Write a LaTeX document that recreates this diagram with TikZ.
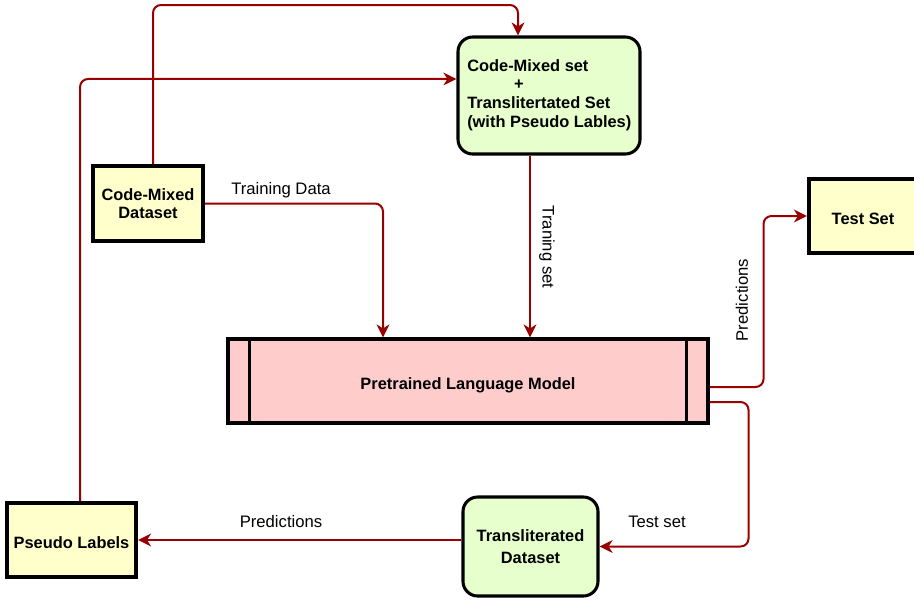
\documentclass[tikz,border=0pt]{standalone}
\usepackage{fontspec}
\setmainfont{Liberation Sans}
\usetikzlibrary{arrows.meta,calc}
\definecolor{lgreen}{HTML}{E6FFCC}
\definecolor{lyellow}{HTML}{FFFFCC}
\definecolor{lpink}{HTML}{FFCCCC}
\definecolor{dred}{HTML}{990000}
\begin{document}
\begin{tikzpicture}[x=0.75pt,y=-0.75pt,
  box/.style={draw=black,line width=2.6pt,font=\fontsize{12.3}{13.5}\selectfont\bfseries,align=center,inner sep=0pt,text depth=0pt},
  oneline/.style={text height=12pt},
  greenbox/.style={box,fill=lgreen,rounded corners=11pt,line width=2.3pt},
  yellowbox/.style={box,fill=lyellow},
  conn/.style={draw=dred,line width=1.5pt,rounded corners=6pt,-{Stealth[length=9.75pt,width=9.5pt,inset=3pt]}},
  lbl/.style={font=\fontsize{12.5}{13.5}\selectfont,inner sep=0pt}]
\useasboundingbox (0,0) rectangle (914,601);

% nodes
\node[greenbox,minimum width=136.5pt,minimum height=87.75pt] (cms) at (549,95.5) {};
\node[font=\fontsize{12.3}{13.9}\selectfont\bfseries,align=left,anchor=west,inner sep=0pt] (cmstext) at (467,95)
  {Code-Mixed set\\\hspace*{2.85em}+\\Translitertated Set\\(with Pseudo Lables)};
\node[yellowbox,line width=3pt,minimum width=82.5pt,minimum height=56.25pt] (cmd) at (148,203.5) {Code-Mixed\\Dataset};
\node[box,oneline,fill=lpink,line width=2.3pt,minimum width=360pt,minimum height=63pt] (plm) at (468,381) {Pretrained Language Model};
\draw[line width=2.3pt] ($(plm.north west)+(17.25pt,0)$) -- ($(plm.south west)+(17.25pt,0)$);
\draw[line width=2.3pt] ($(plm.north east)+(-17.25pt,0)$) -- ($(plm.south east)+(-17.25pt,0)$);
\node[yellowbox,oneline,line width=3pt,minimum width=81pt,minimum height=55.5pt] (test) at (863,216) {Test Set};
\node[yellowbox,oneline,line width=3pt,minimum width=96.75pt,minimum height=55.5pt] (pl) at (71.5,540) {Pseudo Labels};
\node[greenbox,minimum width=101.25pt,minimum height=74.25pt,font=\fontsize{12.3}{16.5}\selectfont\bfseries] (td) at (530.5,546.5) {Transliterated\\Dataset};

% connectors
\draw[conn] ([xshift=3.75pt]cmd.north) -- ++(0,-159) -| ([xshift=-23.25pt]cms.north);
\draw[conn] ([xshift=6.4pt]pl.north) |- ([yshift=12.4pt]cms.west);
\draw[conn] (cmd.east) -| ([xshift=-63.75pt]plm.north);
\draw[conn] ([xshift=-14.25pt]cms.south) -- ([xshift=-14.25pt]cms.south |- plm.north);
\draw[conn] ([yshift=-4.5pt]plm.east) -- ++(54,0) |- (test.west);
\draw[conn] ([yshift=-15.75pt]plm.east) -- ++(39,0) |- (td.east);
\draw[conn] (td.west |- pl.east) -- (pl.east);

% labels
\node[lbl] (l1) at (281,190) {Training Data};
\node[lbl,rotate=-90] (l2) at (547,247) {Traning set};
\node[lbl,rotate=90] (l3) at (742,300) {Predictions};
\node[lbl] (l4) at (657,522) {Test set};
\node[lbl] (l5) at (281,522) {Predictions};
\end{tikzpicture}
\end{document}
